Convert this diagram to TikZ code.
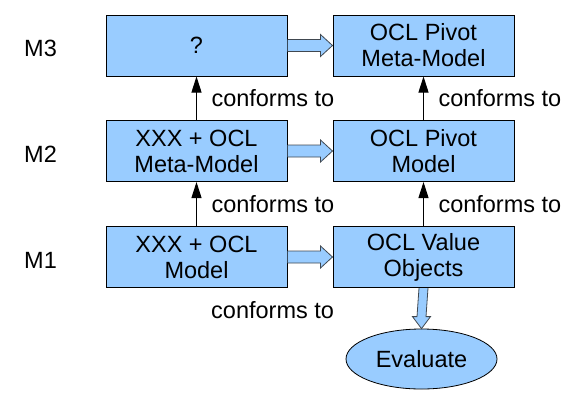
\documentclass[tikz,border=0pt]{standalone}
\usepackage{fontspec}
\setmainfont{Liberation Sans}
\usetikzlibrary{arrows.meta,shapes.geometric}
\definecolor{boxblue}{HTML}{99CCFF}
\definecolor{arrline}{HTML}{404850}
\tikzset{
  txt/.style={font=\fontsize{23.5}{26}\selectfont},
  mbox/.style={txt, draw=black, line width=1pt, fill=boxblue, minimum width=181pt, minimum height=61pt, inner sep=0pt, align=center},
  mell/.style={txt, ellipse, draw=black, line width=0.8pt, fill=boxblue, minimum width=151pt, minimum height=60pt, inner sep=0pt},
  lvl/.style={txt, anchor=base west, inner sep=0pt},
  conf/.style={txt, anchor=west, inner sep=0pt},
  thin arrow/.style={line width=1pt, -{Triangle[length=16pt,width=10pt]}},
  blk/.style={draw=arrline, line width=0.8pt, fill=boxblue, line join=miter},
}
\begin{document}
\begin{tikzpicture}[x=1pt,y=-1pt]
\useasboundingbox (0,0) rectangle (567,416);
% boxes
\node[mbox] (q)   at (196.5,45.5) {?};
\node[mbox] (pmm) at (423.5,45.5) {OCL Pivot\\Meta-Model};
\node[mbox] (xmm) at (196.5,151) {XXX + OCL\\Meta-Model};
\node[mbox] (pm)  at (423.5,151) {OCL Pivot\\Model};
\node[mbox] (xm)  at (196.5,257) {XXX + OCL\\Model};
\node[mbox] (vo)  at (423.5,257) {OCL Value\\Objects};
\node[mell] (ev)  at (421.5,359) {Evaluate};
% level labels
\node[lvl] (m3) at (24,56.5) {M3};
\node[lvl] (m2) at (24,162.5) {M2};
\node[lvl] (m1) at (24,268.5) {M1};
% conforms-to arrows
\draw[thin arrow] (xmm.north) -- (q.south) node[conf, midway, xshift=14.5pt] (c1) {conforms to};
\draw[thin arrow] (pm.north) -- (pmm.south) node[conf, midway, xshift=14.5pt] (c2) {conforms to};
\draw[thin arrow] (xm.north) -- (xmm.south) node[conf, midway, xshift=14.5pt] (c3) {conforms to};
\draw[thin arrow] (vo.north) -- (pm.south) node[conf, midway, xshift=14.5pt] (c4) {conforms to};
\node[conf] (c5) at (211,310) {conforms to};
% block arrows (horizontal)
\foreach \a/\b in {q/pmm, xmm/pm, xm/vo}{
  \filldraw[blk] ([yshift=6pt]\a.east) -- ([xshift=-12pt,yshift=6pt]\b.west) -- ([xshift=-12pt,yshift=11pt]\b.west) -- (\b.west) -- ([xshift=-12pt,yshift=-11pt]\b.west) -- ([xshift=-12pt,yshift=-6pt]\b.west) -- ([yshift=-6pt]\a.east);
}
% block arrow down
\filldraw[blk] ([xshift=-4.5pt]vo.south) -- ([xshift=-4.5pt,yshift=12pt]ev.north) -- ([xshift=-9pt,yshift=12pt]ev.north) -- (ev.north) -- ([xshift=9pt,yshift=12pt]ev.north) -- ([xshift=4.5pt,yshift=12pt]ev.north) -- ([xshift=4.5pt]vo.south);
\end{tikzpicture}
\end{document}
